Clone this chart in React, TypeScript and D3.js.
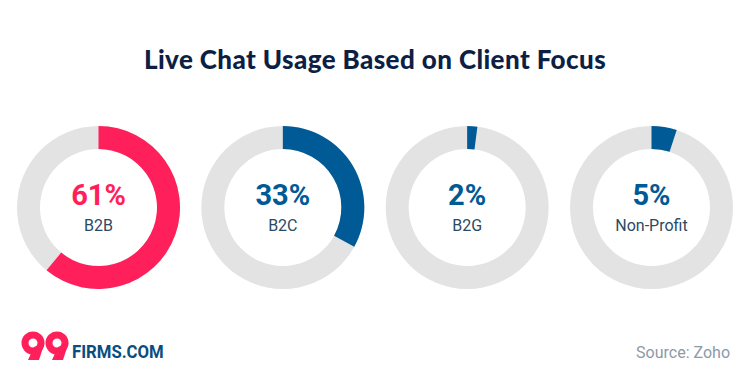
import React from "react";
import * as d3 from "d3";

const categories = ["B2B", "B2C", "B2G", "Non-Profit"];
const values = [61, 33, 2, 5];
const colors = ["#ff1f5a", "#005a96", "#005a96", "#005a96"];
const title = "Live Chat Usage Based on Client Focus";
const source = "Source: Zoho";

const W = 750, H = 390;

export default function App() {
  const x = d3.scalePoint<string>().domain(categories).range([98.5, 651.5]);
  const cy = 207.5;
  const outerR = 81.5, innerR = 58.5;
  const arc = d3.arc<any>().innerRadius(innerR).outerRadius(outerR);
  const angle = d3.scaleLinear().domain([0, 100]).range([0, 2 * Math.PI]);
  const ring = d3.arc<any>().innerRadius(4.5).outerRadius(11.5)({ startAngle: 0, endAngle: 2 * Math.PI })!;
  return (
    <svg width={W} height={H} style={{ position: "absolute", left: 0, top: 0 }}>
      <rect width={W} height={H} fill="#fff" />
      <text x={375} y={69} textAnchor="middle" fontFamily="Lato" fontWeight={900} fontSize={26} letterSpacing={0.4} fill="#0d1f45">{title}</text>
      {categories.map((c, i) => (
        <g key={c} transform={`translate(${x(c)},${cy})`}>
          <path d={arc({ startAngle: 0, endAngle: 2 * Math.PI })!} fill="#e3e3e3" />
          <path d={arc({ startAngle: 0, endAngle: angle(values[i]) })!} fill={colors[i]} />
          <text y={-2.5} textAnchor="middle" fontFamily="Roboto" fontWeight={700} fontSize={29} fill={colors[i]}>{values[i]}%</text>
          <text y={23.5} textAnchor="middle" fontFamily="Roboto" fontSize={16} fill="#2c4a62">{c}</text>
        </g>
      ))}
      {[0, 24].map((ox) => (
        <g key={ox} fill="#ff1f5a" transform={`translate(${ox + 33},343)`}>
          <path d={ring} />
          <polygon points="1,4 11.5,0 6,17 -5,17" />
        </g>
      ))}
      <text x={72} y={358} fontFamily="Roboto" fontWeight={700} fontSize={18} fill="#0b4d7e" transform="translate(72,358) scale(0.93,1) translate(-72,-358)">FIRMS.COM</text>
      <text x={730} y={358} textAnchor="end" fontFamily="Roboto" fontSize={16} fill="#8c9aa8">{source}</text>
    </svg>
  );
}
